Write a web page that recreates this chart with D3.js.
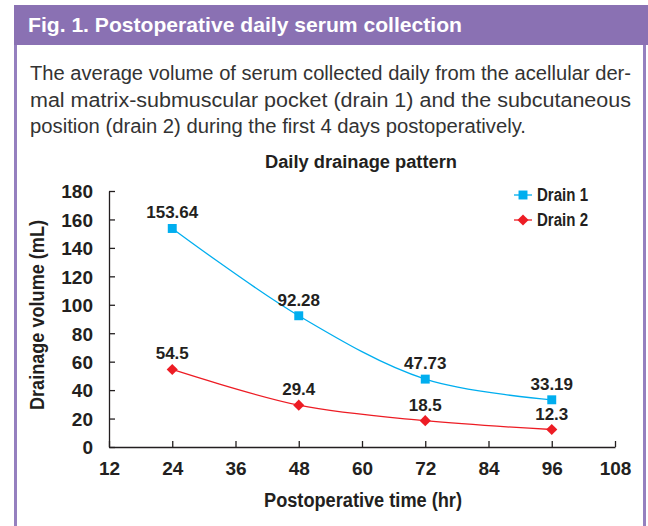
<!DOCTYPE html>
<html>
<head>
<meta charset="utf-8">
<script src="https://cdn.jsdelivr.net/npm/d3@7"></script>
<style>
  body { margin: 0; background: #fff; }
  text { font-family: "Liberation Sans", Arial, sans-serif; }
</style>
</head>
<body>
<script>
const WIDTH = 648;
const HEIGHT = 526;

// data
const hours = [24, 48, 72, 96];
const drain1 = [153.64, 92.28, 47.73, 33.19];
const drain2 = [54.5, 29.4, 18.5, 12.3];
const seriesNames = ["Drain 1", "Drain 2"];
const xTicks = [12, 24, 36, 48, 60, 72, 84, 96, 108];
const yTicks = [0, 20, 40, 60, 80, 100, 120, 140, 160, 180];
const caption = [
  "The average volume of serum collected daily from the acellular der-",
  "mal matrix-submuscular pocket (drain 1) and the subcutaneous",
  "position (drain 2) during the first 4 days postoperatively."
];
const captionWidths = [601, 601, 496];

// squeeze a text to the width it has in the figure (its font is condensed)
function fit(sel, w){
  sel.attr("textLength", w).attr("lengthAdjust", "spacingAndGlyphs");
}

function setup(){
  let svg = d3.select("body")
    .append("svg")
    .attr("width", WIDTH)
    .attr("height", HEIGHT);

  // frame
  svg.append("rect")
    .attr("x", 14).attr("y", 5)
    .attr("width", WIDTH - 14).attr("height", 40)
    .attr("fill", "#8a71b3");
  svg.append("line")
    .attr("x1", 15.5).attr("x2", 15.5).attr("y1", 45).attr("y2", HEIGHT)
    .attr("stroke", "#9580bf").attr("stroke-width", 3);
  svg.append("line")
    .attr("x1", 644.5).attr("x2", 644.5).attr("y1", 45).attr("y2", HEIGHT)
    .attr("stroke", "#9580bf").attr("stroke-width", 3);

  svg.append("text")
    .attr("x", 28).attr("y", 32)
    .attr("fill", "#fff")
    .attr("font-size", 21).attr("font-weight", "bold")
    .text("Fig. 1. Postoperative daily serum collection")
    .call(fit, 434);

  svg.selectAll(".caption")
    .data(caption)
    .enter()
    .append("text")
    .attr("class", "caption")
    .attr("x", 30)
    .attr("y", (d, i) => 80 + i * 26.5)
    .attr("fill", "#333")
    .attr("font-size", 20)
    .attr("textLength", (d, i) => captionWidths[i])
    .attr("lengthAdjust", "spacingAndGlyphs")
    .text(d => d);

  main(svg);
}

function main(svg){
  let x = d3.scaleLinear().domain([12, 108]).range([109, 615]);
  let y = d3.scaleLinear().domain([0, 180]).range([447, 191]);

  let ink = "#231f20";

  let yAxis = svg.append("g")
    .attr("transform", "translate(109,0)")
    .call(d3.axisLeft(y).tickValues(yTicks).tickSizeInner(-6).tickSizeOuter(0).tickPadding(16));
  let xAxis = svg.append("g")
    .attr("transform", "translate(0,447)")
    .call(d3.axisBottom(x).tickValues(xTicks).tickSizeInner(-6).tickSizeOuter(0).tickPadding(15));

  [xAxis, yAxis].forEach(g => {
    g.attr("font-family", null);
    g.selectAll("path, line").attr("stroke", ink).attr("stroke-width", 1.3);
    g.selectAll("text")
      .attr("fill", ink)
      .attr("font-size", 19)
      .attr("font-weight", "bold");
  });
  yAxis.selectAll("text").attr("dy", "0.36em");

  // titles
  svg.append("text")
    .attr("x", 265).attr("y", 168)
    .attr("fill", ink).attr("font-size", 18).attr("font-weight", "bold")
    .text("Daily drainage pattern")
    .call(fit, 192);
  svg.append("text")
    .attr("x", 264).attr("y", 507)
    .attr("fill", ink).attr("font-size", 20).attr("font-weight", "bold")
    .text("Postoperative time (hr)")
    .call(fit, 198);
  svg.append("text")
    .attr("transform", "translate(44,410) rotate(-90)")
    .attr("fill", ink).attr("font-size", 20).attr("font-weight", "bold")
    .text("Drainage volume (mL)")
    .call(fit, 190);

  let series = [
    { name: seriesNames[0], values: drain1, color: "#00aeef", symbol: d3.symbolSquare, size: 80, rot: 0 },
    { name: seriesNames[1], values: drain2, color: "#ed1c24", symbol: d3.symbolSquare, size: 62, rot: 45 }
  ];

  let line = d3.line()
    .x(d => x(d.h))
    .y(d => y(d.v))
    .curve(d3.curveCatmullRom.alpha(0.5));

  series.forEach(s => {
    let pts = hours.map((h, i) => ({ h: h, v: s.values[i] }));
    svg.append("path")
      .datum(pts)
      .attr("d", line)
      .attr("fill", "none")
      .attr("stroke", s.color)
      .attr("stroke-width", 1.3);
    svg.selectAll(null)
      .data(pts)
      .enter()
      .append("path")
      .attr("d", d3.symbol().type(s.symbol).size(s.size))
      .attr("transform", d => `translate(${x(d.h)},${y(d.v)}) rotate(${s.rot})`)
      .attr("fill", s.color);
    svg.selectAll(null)
      .data(pts)
      .enter()
      .append("text")
      .attr("x", d => x(d.h))
      .attr("y", d => y(d.v) - 10)
      .attr("text-anchor", "middle")
      .attr("fill", ink).attr("font-size", 17).attr("font-weight", "bold")
      .text(d => d.v);
  });

  // legend
  let legend = svg.selectAll(".legend")
    .data(series)
    .enter()
    .append("g")
    .attr("class", "legend")
    .attr("transform", (d, i) => `translate(514,${195 + i * 25})`);
  legend.append("line")
    .attr("x1", 0).attr("x2", 18)
    .attr("stroke", d => d.color).attr("stroke-width", 1.3);
  legend.append("path")
    .attr("d", d => d3.symbol().type(d.symbol).size(d.size)())
    .attr("transform", d => `translate(9,0) rotate(${d.rot})`)
    .attr("fill", d => d.color);
  legend.append("text")
    .attr("x", 23).attr("y", 0).attr("dy", "0.36em")
    .attr("fill", ink).attr("font-size", 18).attr("font-weight", "bold")
    .text(d => d.name)
    .call(fit, 51);
}

window.addEventListener("load", setup);
</script>
</body>
</html>
